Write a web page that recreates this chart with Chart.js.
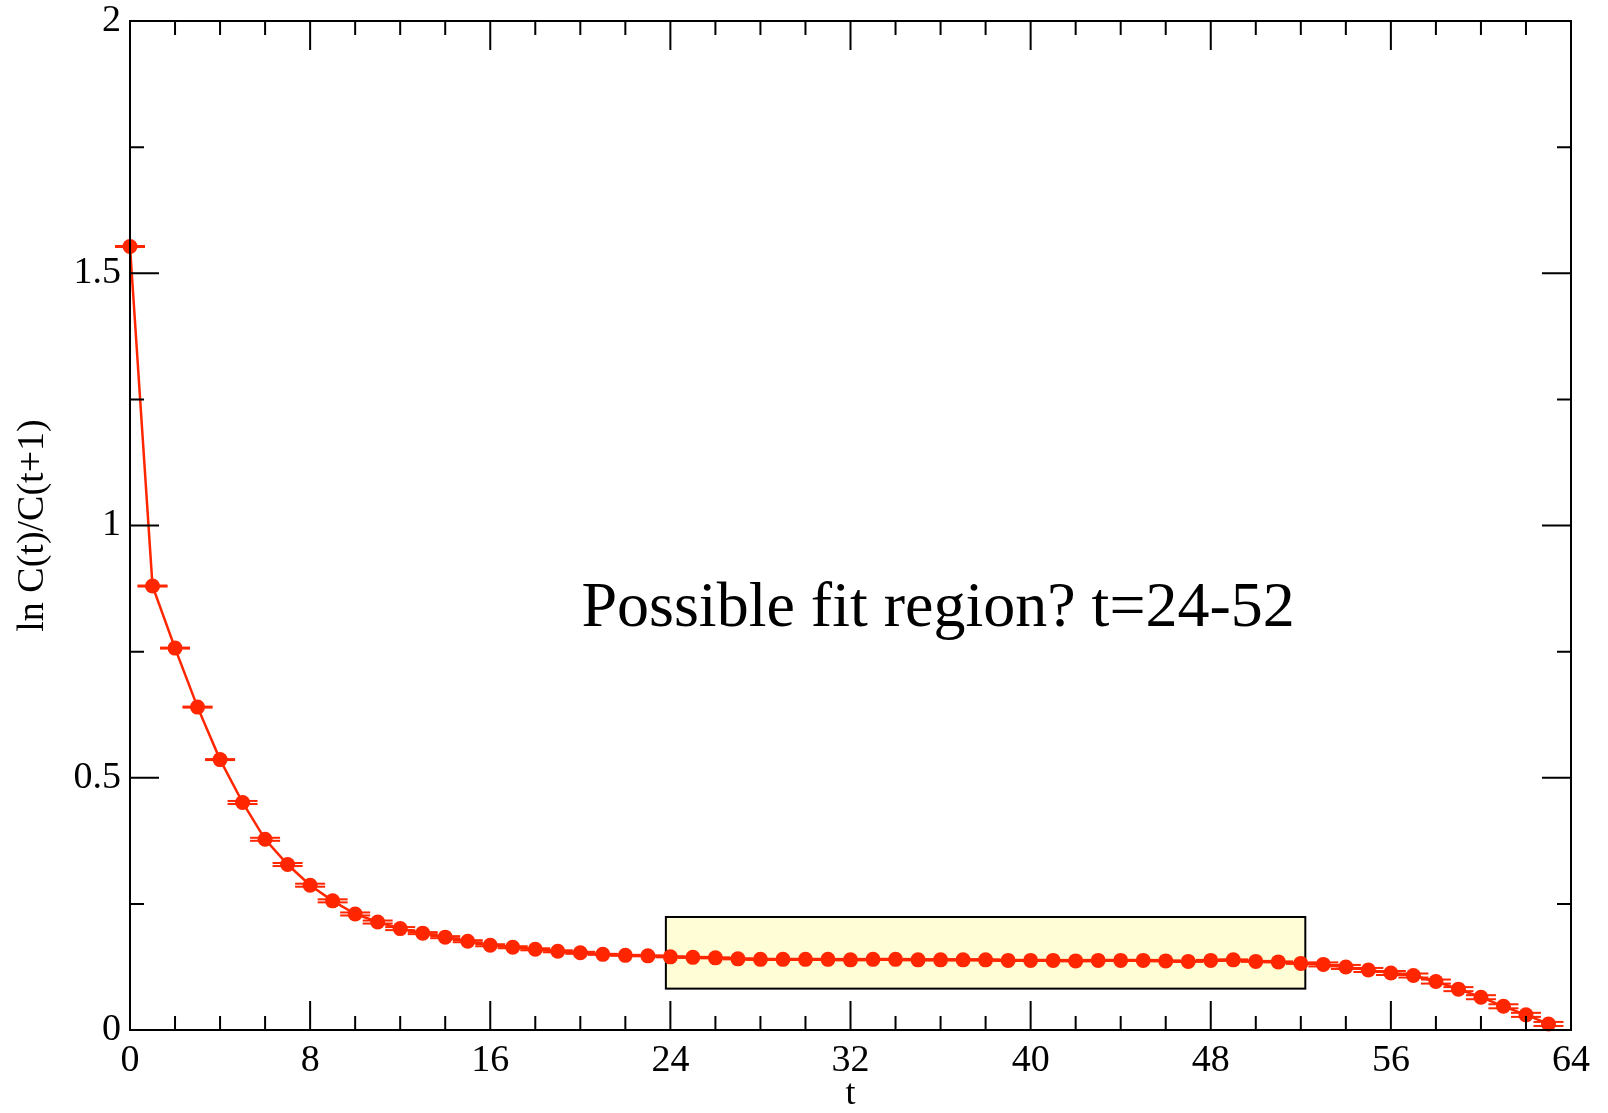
<!DOCTYPE html>
<html>
<head>
<meta charset="utf-8">
<script src="https://cdn.jsdelivr.net/npm/chart.js@4.4.1/dist/chart.umd.min.js"></script>
<style>
  html, body { margin: 0; padding: 0; background: #fff; }
  #wrap { width: 1608px; height: 1113px; }
</style>
</head>
<body>
<div id="wrap"><canvas id="effMass"></canvas></div>
<script>
// valores de t (tiempo euclídeo)
const tValues = [0, 1, 2, 3, 4, 5, 6, 7, 8, 9, 10, 11, 12, 13, 14, 15,
  16, 17, 18, 19, 20, 21, 22, 23, 24, 25, 26, 27, 28, 29, 30, 31,
  32, 33, 34, 35, 36, 37, 38, 39, 40, 41, 42, 43, 44, 45, 46, 47,
  48, 49, 50, 51, 52, 53, 54, 55, 56, 57, 58, 59, 60, 61, 62, 63];

// ln C(t)/C(t+1)
const logRatio = [1.553, 0.880, 0.757, 0.640, 0.536, 0.451, 0.378, 0.328,
  0.287, 0.256, 0.230, 0.214, 0.201, 0.192, 0.184, 0.176,
  0.168, 0.164, 0.160, 0.156, 0.153, 0.150, 0.148, 0.147,
  0.145, 0.144, 0.143, 0.141, 0.140, 0.140, 0.140, 0.140,
  0.139, 0.140, 0.140, 0.139, 0.139, 0.139, 0.139, 0.138,
  0.138, 0.138, 0.137, 0.138, 0.138, 0.138, 0.137, 0.136,
  0.138, 0.139, 0.136, 0.135, 0.132, 0.130, 0.125, 0.119,
  0.113, 0.108, 0.096, 0.081, 0.065, 0.047, 0.030, 0.012];

// errores (barras verticales muy pequeñas)
const logRatioErr = [0.001, 0.001, 0.001, 0.001, 0.001, 0.003, 0.003, 0.003,
  0.003, 0.003, 0.003, 0.003, 0.003, 0.002, 0.002, 0.002,
  0.002, 0.002, 0.002, 0.002, 0.002, 0.001, 0.001, 0.001,
  0.001, 0.001, 0.001, 0.001, 0.001, 0.001, 0.001, 0.001,
  0.001, 0.001, 0.001, 0.001, 0.001, 0.001, 0.001, 0.001,
  0.001, 0.001, 0.001, 0.001, 0.001, 0.001, 0.001, 0.001,
  0.001, 0.001, 0.001, 0.001, 0.001, 0.004, 0.004, 0.004,
  0.004, 0.004, 0.004, 0.004, 0.004, 0.004, 0.004, 0.004];

// ticks de los ejes
const xTickLabels = [0, 8, 16, 24, 32, 40, 48, 56, 64];
const yTickLabels = [0, 0.5, 1, 1.5, 2];

// región de ajuste propuesta (la caja va un poco más allá de 24 y 52)
const fitRange = [23.8, 52.2];
const fitBand = [0.082, 0.224];
const noteText = 'Possible fit region? t=24-52';

const RED = '#ff2600';
const SERIF = '"Liberation Serif", "Times New Roman", serif';

const points = tValues.map((t, i) => ({ x: t, y: logRatio[i] }));

const gracePlugin = {
  id: 'grace',
  beforeDatasetsDraw(chart) {
    const { ctx, scales: { x, y } } = chart;
    // caja amarilla de la región de ajuste
    const x0 = x.getPixelForValue(fitRange[0]);
    const x1 = x.getPixelForValue(fitRange[1]);
    const y0 = y.getPixelForValue(fitBand[1]);
    const y1 = y.getPixelForValue(fitBand[0]);
    ctx.save();
    ctx.fillStyle = '#fffdd6';
    ctx.fillRect(x0, y0, x1 - x0, y1 - y0);
    ctx.strokeStyle = '#000';
    ctx.lineWidth = 2;
    ctx.strokeRect(x0, y0, x1 - x0, y1 - y0);
    ctx.restore();
  },
  afterDatasetsDraw(chart) {
    const { ctx, scales: { x, y } } = chart;
    // topes de las barras de error
    ctx.save();
    ctx.strokeStyle = RED;
    ctx.lineWidth = 2;
    tValues.forEach((t, i) => {
      const px = x.getPixelForValue(t);
      [logRatio[i] + logRatioErr[i], logRatio[i] - logRatioErr[i]].forEach(v => {
        const py = y.getPixelForValue(v);
        ctx.beginPath();
        ctx.moveTo(px - 15, py);
        ctx.lineTo(px + 15, py);
        ctx.stroke();
      });
    });
    ctx.restore();
  },
  afterDraw(chart) {
    const { ctx, chartArea: a, scales: { x, y } } = chart;
    ctx.save();
    ctx.strokeStyle = '#000';
    ctx.lineWidth = 2;
    ctx.strokeRect(a.left, a.top, a.right - a.left, a.bottom - a.top);
    // ticks hacia dentro en los cuatro lados
    ctx.beginPath();
    for (let v = x.min; v <= x.max; v += 2) {
      if (v === x.min || v === x.max) continue;
      const len = v % 8 === 0 ? 29 : 14;
      const px = x.getPixelForValue(v);
      ctx.moveTo(px, a.bottom); ctx.lineTo(px, a.bottom - len);
      ctx.moveTo(px, a.top); ctx.lineTo(px, a.top + len);
    }
    for (let v = y.min; v <= y.max + 1e-9; v += 0.25) {
      if (v === y.min || Math.abs(v - y.max) < 1e-9) continue;
      const len = Math.abs(v * 2 - Math.round(v * 2)) < 1e-9 ? 29 : 14;
      const py = y.getPixelForValue(v);
      ctx.moveTo(a.left, py); ctx.lineTo(a.left + len, py);
      ctx.moveTo(a.right, py); ctx.lineTo(a.right - len, py);
    }
    ctx.stroke();
    // texto de la anotación
    ctx.fillStyle = '#000';
    ctx.font = '64px ' + SERIF;
    ctx.textBaseline = 'alphabetic';
    ctx.textAlign = 'left';
    ctx.fillText(noteText, x.getPixelForValue(20.05), y.getPixelForValue(0.80));
    ctx.restore();
  }
};

const ctxMass = document.getElementById('effMass').getContext('2d');
const massChart = new Chart(ctxMass, {
  type: 'line',
  data: {
    datasets: [{
      data: points,
      borderColor: RED,
      backgroundColor: RED,
      borderWidth: 2.5,
      pointRadius: 7.5,
      pointHoverRadius: 7.5,
      pointBorderWidth: 0,
      tension: 0,
      clip: false
    }]
  },
  options: {
    responsive: true,
    maintainAspectRatio: false,
    animation: false,
    layout: { padding: { top: 21, right: 37, left: 0, bottom: 0 } },
    plugins: { legend: { display: false }, tooltip: { enabled: false } },
    scales: {
      x: {
        type: 'linear',
        min: 0,
        max: 64,
        afterBuildTicks: s => { s.ticks = xTickLabels.map(v => ({ value: v })); },
        afterFit: s => { s.height = 83; s.paddingLeft = 0; s.paddingRight = 0; },
        grid: { display: false, drawTicks: false },
        border: { display: false },
        ticks: {
          color: '#000',
          padding: 8,
          maxRotation: 0,
          font: { family: SERIF, size: 38 }
        },
        title: {
          display: true,
          text: 't',
          color: '#000',
          padding: { top: 0, bottom: 0 },
          font: { family: SERIF, size: 36, lineHeight: 1 }
        }
      },
      y: {
        type: 'linear',
        min: 0,
        max: 2,
        afterBuildTicks: s => { s.ticks = yTickLabels.map(v => ({ value: v })); },
        afterFit: s => { s.width = 130; s.paddingTop = 0; s.paddingBottom = 0; },
        grid: { display: false, drawTicks: false },
        border: { display: false },
        ticks: {
          color: '#000',
          padding: 9,
          font: { family: SERIF, size: 38 },
          callback: v => String(v)
        },
        title: {
          display: true,
          text: 'ln C(t)/C(t+1)',
          color: '#000',
          padding: { top: 14, bottom: 0 },
          font: { family: SERIF, size: 38, lineHeight: 1 }
        }
      }
    }
  },
  plugins: [gracePlugin]
});
</script>
</body>
</html>
